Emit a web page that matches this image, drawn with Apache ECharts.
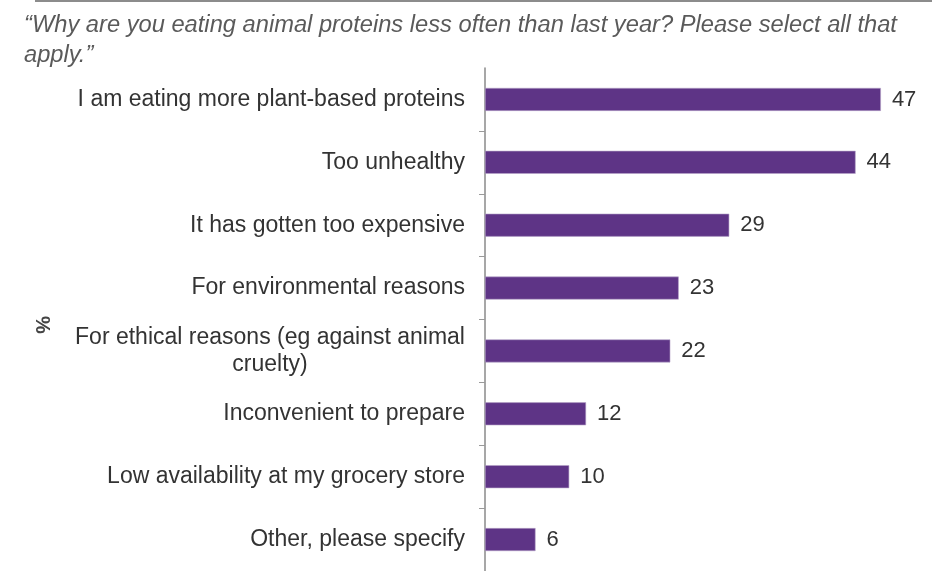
<!DOCTYPE html>
<html>
<head>
<meta charset="utf-8">
<script src="https://cdn.jsdelivr.net/npm/echarts@6/dist/echarts.min.js"></script>
<style>
  html, body { margin: 0; padding: 0; background: #fff; }
  #chart { width: 932px; height: 571px; }
</style>
</head>
<body>
<div id="chart"></div>
<script>
// Reasons for eating animal proteins less often (top to bottom)
const categories = [
  'I am eating more plant-based proteins',
  'Too unhealthy',
  'It has gotten too expensive',
  'For environmental reasons',
  'For ethical reasons (eg against animal\ncruelty)',
  'Inconvenient to prepare',
  'Low availability at my grocery store',
  'Other, please specify'
];
const values = [47, 44, 29, 23, 22, 12, 10, 6];
const questionText = '\u201CWhy are you eating animal proteins less often than last year? Please select all that\napply.\u201D';
const axisName = '%';

const FONT = 'Liberation Sans, Arial, sans-serif';
const LABEL_SIZE = 23;

// width of the longest line of a wrapped label, so its lines can be centred as a block
function textWidth(str, size) {
  const ctx = document.createElement('canvas').getContext('2d');
  ctx.font = size + 'px ' + FONT;
  return ctx.measureText(str).width;
}

const chart = echarts.init(document.getElementById('chart'));

chart.setOption({
  animation: false,
  textStyle: { fontFamily: FONT },
  title: {
    text: questionText,
    left: 19,
    top: 5,
    textStyle: {
      fontFamily: FONT,
      fontStyle: 'italic',
      fontWeight: 'normal',
      fontSize: 23.7,
      lineHeight: 30,
      color: '#5a5a5a'
    }
  },
  graphic: [
    {
      type: 'line',
      shape: { x1: 35, y1: 1, x2: 932, y2: 1 },
      style: { stroke: '#8c8c8c', lineWidth: 2 }
    },
    {
      type: 'text',
      x: 42, y: 325,
      rotation: -Math.PI / 2,
      style: {
        text: axisName,
        font: 'bold 20px ' + FONT,
        fill: '#444',
        align: 'center',
        verticalAlign: 'middle'
      }
    }
  ],
  grid: { left: 485, top: 68, width: 438, height: 506, containLabel: false },
  xAxis: {
    type: 'value',
    min: 0,
    max: 52,
    show: false
  },
  yAxis: {
    type: 'category',
    inverse: true,
    data: categories,
    axisLine: { show: true, lineStyle: { color: '#8a8a8a', width: 1.5 } },
    axisTick: {
      show: true,
      length: 6,
      interval: function (i) { return i !== 0; },
      lineStyle: { color: '#9a9a9a' }
    },
    axisLabel: {
      margin: 20,
      fontSize: LABEL_SIZE,
      color: '#333',
      align: 'right',
      lineHeight: 27,
      formatter: function (v) {
        const lines = v.split('\n');
        if (lines.length > 1) {
          return lines.map(l => '{c|' + l + '}').join('\n');
        }
        return v;
      },
      rich: {
        c: {
          width: Math.ceil(textWidth('For ethical reasons (eg against animal', LABEL_SIZE)),
          align: 'center',
          fontSize: LABEL_SIZE,
          color: '#333',
          lineHeight: 27
        }
      }
    },
    splitLine: { show: false }
  },
  series: [{
    type: 'bar',
    data: values,
    barWidth: 23,
    itemStyle: { color: '#5e3486', borderColor: '#b6a3c8', borderWidth: 0.6 },
    label: {
      show: true,
      position: 'right',
      distance: 11,
      fontSize: 22,
      color: '#333'
    }
  }]
});
</script>
</body>
</html>
